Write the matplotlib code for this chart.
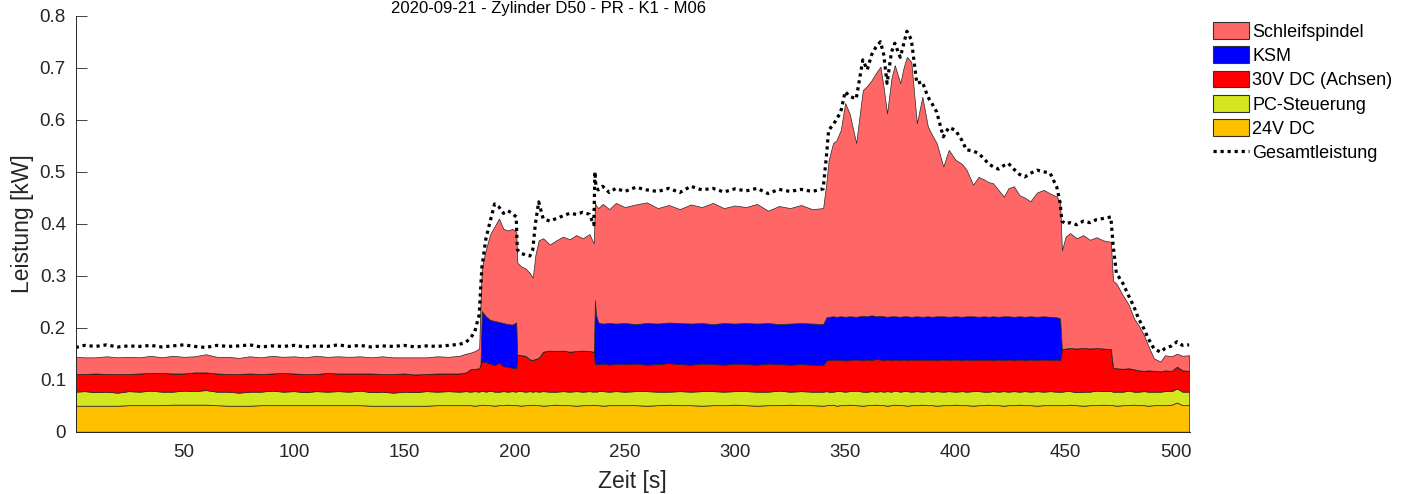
import matplotlib
matplotlib.use('Agg')
import matplotlib.pyplot as plt
from matplotlib.patches import Patch
from matplotlib.lines import Line2D

plt.rcParams['font.family'] = ['Liberation Sans', 'DejaVu Sans']

title_text = "2020-09-21 - Zylinder D50 - PR - K1 - M06"
series_names = ["Schleifspindel", "KSM", "30V DC (Achsen)", "PC-Steuerung", "24V DC", "Gesamtleistung"]
xtick_vals = [50, 100, 150, 200, 250, 300, 350, 400, 450, 500]
xtick_labels = ["50", "100", "150", "200", "250", "300", "350", "400", "450", "500"]
ytick_vals = [0, 0.1, 0.2, 0.3, 0.4, 0.5, 0.6, 0.7, 0.8]
ytick_labels = ["0", "0.1", "0.2", "0.3", "0.4", "0.5", "0.6", "0.7", "0.8"]

# time [s]
time = [
    1, 5, 10, 15, 20, 25, 30, 35, 40, 45, 50, 55, 60, 65, 70, 75, 80, 85,
    90, 95, 100, 105, 110, 115, 120, 125, 130, 135, 140, 145, 150, 155, 160, 165, 170, 175,
    178, 180, 182, 184, 184.6, 185.2, 187, 189, 191, 193, 195, 197, 199, 200.8, 201.3, 203,
    205, 207, 208.3, 209.5, 211, 213, 216, 219, 222, 225, 228, 231, 234, 236, 236.5, 237,
    238, 240, 243, 246,
    250, 255, 260, 265, 270, 275, 280, 285, 290, 295, 300, 305, 310, 315, 320, 325, 330, 335, 340,
    341.5, 342.5, 344.5, 346, 348, 350, 352, 355, 358, 360, 362, 364, 366, 367.5, 369, 371,
    372.5, 375, 376.5, 378, 380, 382.5, 385, 387.5, 389.5, 391.5, 394.5, 397, 400, 403, 405, 408,
    410.5, 413, 415, 417, 419.5, 422, 424, 426.5, 429, 431.5, 434, 437, 440, 443, 446, 447.5,
    448.3, 450, 452, 455, 458, 461, 464, 467, 470.5, 471.5, 473, 476, 478.5, 481, 483, 485.5,
    487.5, 490, 493, 495, 498, 500.5, 503, 506,
]

# 24V DC [kW]
p24 = [
    0.050, 0.050, 0.050, 0.050, 0.050, 0.051, 0.051, 0.051, 0.051, 0.052, 0.052, 0.052, 0.052, 0.051, 0.050, 0.050, 0.050, 0.051,
    0.051, 0.051, 0.051, 0.051, 0.051, 0.051, 0.051, 0.051, 0.051, 0.050, 0.050, 0.050, 0.050, 0.050, 0.050, 0.051, 0.051, 0.051,
    0.051, 0.051, 0.050, 0.051, 0.051, 0.052, 0.051, 0.051, 0.050, 0.051, 0.051, 0.052, 0.051, 0.051, 0.051, 0.050,
    0.051, 0.051, 0.052, 0.051, 0.051, 0.050, 0.051, 0.052, 0.051, 0.051, 0.050, 0.051, 0.051, 0.052, 0.051, 0.051,
    0.051, 0.050, 0.051, 0.051,
    0.051, 0.051, 0.050, 0.051, 0.052, 0.051, 0.051, 0.050, 0.051, 0.051, 0.052, 0.051, 0.050, 0.051, 0.051, 0.052, 0.051, 0.051, 0.050,
    0.051, 0.051, 0.052, 0.050, 0.051, 0.051, 0.052, 0.051, 0.050, 0.051, 0.051, 0.052, 0.051, 0.051, 0.050, 0.051,
    0.052, 0.051, 0.051, 0.050, 0.051, 0.051, 0.052, 0.051, 0.051, 0.050, 0.051, 0.051, 0.052, 0.051, 0.051, 0.050,
    0.051, 0.051, 0.052, 0.051, 0.051, 0.050, 0.051, 0.051, 0.052, 0.051, 0.051, 0.050, 0.051, 0.051, 0.051, 0.051,
    0.051, 0.051, 0.052, 0.051, 0.050, 0.051, 0.051, 0.052, 0.051, 0.051, 0.050, 0.051, 0.051, 0.052, 0.051, 0.051,
    0.050, 0.051, 0.051, 0.051, 0.052, 0.056, 0.051, 0.051,
]

# PC-Steuerung [kW]
pc = [
    0.027, 0.028, 0.026, 0.027, 0.025, 0.027, 0.026, 0.028, 0.026, 0.025, 0.027, 0.026, 0.028, 0.026, 0.027, 0.025, 0.027, 0.026,
    0.028, 0.026, 0.027, 0.025, 0.027, 0.026, 0.027, 0.026, 0.028, 0.026, 0.027, 0.025, 0.027, 0.026, 0.028, 0.026, 0.027, 0.026,
    0.027, 0.026, 0.028, 0.026, 0.027, 0.027, 0.026, 0.028, 0.027, 0.026, 0.027, 0.025, 0.027, 0.026, 0.027, 0.028,
    0.026, 0.027, 0.025, 0.027, 0.026, 0.028, 0.026, 0.025, 0.027, 0.026, 0.028, 0.026, 0.027, 0.025, 0.027, 0.026,
    0.027, 0.028, 0.026, 0.027,
    0.026, 0.027, 0.028, 0.026, 0.025, 0.027, 0.026, 0.028, 0.027, 0.026, 0.026, 0.027, 0.027, 0.026, 0.028, 0.025, 0.027, 0.026, 0.027,
    0.027, 0.026, 0.025, 0.028, 0.027, 0.026, 0.026, 0.028, 0.027, 0.026, 0.027, 0.025, 0.027, 0.026, 0.028, 0.026,
    0.027, 0.026, 0.027, 0.028, 0.026, 0.027, 0.025, 0.027, 0.026, 0.028, 0.026, 0.027, 0.025, 0.027, 0.026, 0.028,
    0.027, 0.026, 0.025, 0.027, 0.026, 0.028, 0.026, 0.027, 0.025, 0.027, 0.026, 0.028, 0.026, 0.027, 0.026, 0.026,
    0.026, 0.027, 0.026, 0.025, 0.027, 0.026, 0.028, 0.026, 0.027, 0.026, 0.027, 0.026, 0.028, 0.025, 0.026, 0.027,
    0.027, 0.026, 0.026, 0.027, 0.026, 0.027, 0.026, 0.026,
]

# 30V DC (Achsen) [kW]
p30 = [
    0.034, 0.033, 0.036, 0.034, 0.036, 0.033, 0.035, 0.034, 0.036, 0.035, 0.033, 0.036, 0.034, 0.035, 0.034, 0.036, 0.035, 0.034,
    0.033, 0.036, 0.034, 0.035, 0.033, 0.036, 0.034, 0.035, 0.033, 0.036, 0.034, 0.036, 0.035, 0.034, 0.033, 0.035, 0.034, 0.035,
    0.036, 0.043, 0.043, 0.045, 0.052, 0.056, 0.057, 0.052, 0.051, 0.056, 0.048, 0.048, 0.045, 0.045, 0.070, 0.069,
    0.069, 0.061, 0.061, 0.062, 0.065, 0.076, 0.079, 0.078, 0.078, 0.077, 0.077, 0.079, 0.077, 0.077, 0.053, 0.053,
    0.052, 0.053, 0.052, 0.053,
    0.053, 0.053, 0.051, 0.053, 0.055, 0.052, 0.052, 0.053, 0.052, 0.052, 0.053, 0.052, 0.052, 0.054, 0.051, 0.052, 0.052, 0.052, 0.051,
    0.059, 0.061, 0.061, 0.061, 0.060, 0.060, 0.060, 0.060, 0.061, 0.062, 0.060, 0.063, 0.061, 0.061, 0.061, 0.061,
    0.060, 0.061, 0.061, 0.060, 0.062, 0.060, 0.062, 0.060, 0.062, 0.060, 0.062, 0.060, 0.062, 0.060, 0.062, 0.060,
    0.061, 0.061, 0.062, 0.060, 0.062, 0.060, 0.062, 0.060, 0.062, 0.060, 0.062, 0.060, 0.062, 0.060, 0.062, 0.060,
    0.081, 0.082, 0.083, 0.084, 0.084, 0.083, 0.082, 0.082, 0.081, 0.046, 0.045, 0.044, 0.043, 0.043, 0.041, 0.039,
    0.041, 0.040, 0.039, 0.040, 0.039, 0.042, 0.041, 0.040,
]

# KSM [kW]
ksm = [
    0, 0, 0, 0, 0, 0, 0, 0, 0, 0, 0, 0, 0, 0, 0, 0, 0, 0,
    0, 0, 0, 0, 0, 0, 0, 0, 0, 0, 0, 0, 0, 0, 0, 0, 0, 0,
    0, 0, 0, 0, 0, 0.097, 0.088, 0.084, 0.085, 0.078, 0.083, 0.082, 0.083, 0.088, 0, 0,
    0, 0, 0, 0, 0, 0, 0, 0, 0, 0, 0, 0, 0, 0, 0.122, 0.095,
    0.080, 0.077, 0.080, 0.077,
    0.079, 0.076, 0.080, 0.078, 0.078, 0.079, 0.079, 0.078, 0.077, 0.080, 0.077, 0.079, 0.079, 0.078, 0.077, 0.079, 0.079, 0.079, 0.079,
    0.083, 0.083, 0.084, 0.082, 0.084, 0.084, 0.084, 0.082, 0.085, 0.083, 0.086, 0.082, 0.084, 0.084, 0.082, 0.084,
    0.083, 0.083, 0.083, 0.084, 0.082, 0.084, 0.082, 0.084, 0.082, 0.084, 0.083, 0.083, 0.083, 0.083, 0.083, 0.084,
    0.082, 0.084, 0.082, 0.084, 0.082, 0.084, 0.083, 0.083, 0.083, 0.083, 0.083, 0.083, 0.083, 0.083, 0.081, 0.081,
    0, 0, 0, 0, 0, 0, 0, 0, 0, 0, 0, 0, 0, 0, 0, 0,
    0, 0, 0, 0, 0, 0, 0, 0,
]

# Schleifspindel [kW]
schleif = [
    0.033, 0.032, 0.031, 0.034, 0.032, 0.033, 0.031, 0.033, 0.030, 0.034, 0.032, 0.031, 0.035, 0.032, 0.033, 0.031, 0.033, 0.032,
    0.034, 0.031, 0.033, 0.032, 0.035, 0.031, 0.033, 0.032, 0.033, 0.031, 0.034, 0.032, 0.031, 0.033, 0.032, 0.033, 0.032, 0.034,
    0.036, 0.032, 0.034, 0.038, 0.120, 0.083, 0.128, 0.165, 0.182, 0.199, 0.181, 0.180, 0.184, 0.175, 0.177, 0.171,
    0.168, 0.166, 0.158, 0.200, 0.226, 0.218, 0.204, 0.213, 0.219, 0.216, 0.223, 0.216, 0.225, 0.208, 0.187, 0.210,
    0.220, 0.230, 0.219, 0.232,
    0.223, 0.230, 0.232, 0.222, 0.226, 0.219, 0.229, 0.223, 0.233, 0.221, 0.227, 0.223, 0.230, 0.216, 0.227, 0.222, 0.227, 0.220, 0.223,
    0.260, 0.301, 0.333, 0.339, 0.358, 0.411, 0.390, 0.334, 0.434, 0.443, 0.452, 0.468, 0.479, 0.438, 0.391, 0.458,
    0.483, 0.449, 0.478, 0.499, 0.490, 0.371, 0.423, 0.365, 0.349, 0.333, 0.288, 0.321, 0.301, 0.294, 0.282, 0.253,
    0.269, 0.263, 0.259, 0.256, 0.244, 0.230, 0.246, 0.251, 0.233, 0.229, 0.221, 0.239, 0.243, 0.237, 0.232, 0.222,
    0.191, 0.215, 0.221, 0.212, 0.217, 0.209, 0.213, 0.208, 0.206, 0.167, 0.163, 0.141, 0.123, 0.098, 0.087, 0.069,
    0.047, 0.024, 0.019, 0.029, 0.028, 0.025, 0.028, 0.030,
]

# Gesamtleistung [kW]
total = [
    0.162, 0.166, 0.164, 0.167, 0.163, 0.165, 0.164, 0.166, 0.163, 0.165, 0.167, 0.164, 0.162, 0.166, 0.164, 0.165, 0.167, 0.163,
    0.165, 0.164, 0.166, 0.163, 0.165, 0.164, 0.167, 0.164, 0.166, 0.163, 0.165, 0.164, 0.166, 0.163, 0.165, 0.164, 0.166, 0.168,
    0.172, 0.180, 0.192, 0.225, 0.270, 0.315, 0.370, 0.405, 0.438, 0.432, 0.420, 0.425, 0.420, 0.413, 0.350, 0.343,
    0.340, 0.338, 0.350, 0.400, 0.442, 0.410, 0.405, 0.410, 0.415, 0.420, 0.418, 0.422, 0.418, 0.398, 0.500, 0.470,
    0.465, 0.472, 0.460, 0.468,
    0.462, 0.470, 0.465, 0.462, 0.468, 0.460, 0.472, 0.465, 0.468, 0.461, 0.467, 0.463, 0.468, 0.458, 0.466, 0.462, 0.466, 0.462, 0.467,
    0.530, 0.580, 0.590, 0.600, 0.615, 0.654, 0.645, 0.640, 0.715, 0.696, 0.725, 0.740, 0.750, 0.725, 0.670, 0.730,
    0.747, 0.720, 0.745, 0.770, 0.754, 0.670, 0.673, 0.644, 0.630, 0.615, 0.567, 0.585, 0.580, 0.560, 0.542, 0.540,
    0.535, 0.525, 0.515, 0.510, 0.505, 0.512, 0.516, 0.505, 0.495, 0.490, 0.497, 0.503, 0.500, 0.497, 0.470, 0.440,
    0.405, 0.400, 0.402, 0.398, 0.405, 0.402, 0.408, 0.410, 0.413, 0.360, 0.305, 0.285, 0.262, 0.240, 0.218, 0.198,
    0.179, 0.160, 0.153, 0.160, 0.165, 0.173, 0.166, 0.167,
]

for name, arr in [("p24", p24), ("pc", pc), ("p30", p30), ("ksm", ksm), ("schleif", schleif), ("total", total)]:
    assert len(arr) == len(time), (name, len(arr), len(time))

col_24 = '#FFC000'
col_pc = '#D4E61E'
col_30 = '#FF0000'
col_ksm = '#0000FF'
col_sch = '#FF6666'
edge_col = '#262626'
text_col = '#262626'

W, H = 1414, 494
fig = plt.figure(figsize=(W / 100, H / 100), dpi=100)
ax_left, ax_right, ax_top, ax_bot = 75.7, 1190.0, 15.7, 431.7
ax = fig.add_axes([ax_left / W, 1 - ax_bot / H, (ax_right - ax_left) / W, (ax_bot - ax_top) / H])

ax.stackplot(time, p24, pc, p30, ksm, schleif,
             colors=[col_24, col_pc, col_30, col_ksm, col_sch],
             edgecolor=edge_col, linewidth=0.5)
ax.plot(time, total, color='black', linestyle=(0, (1, 1.2)), linewidth=2.3)

ax.set_xlim(1, 506.4)
ax.set_ylim(0, 0.8)
ax.set_xticks(xtick_vals)
ax.set_xticklabels(xtick_labels)
ax.set_yticks(ytick_vals)
ax.set_yticklabels(ytick_labels)
ax.set_axisbelow(True)
ax.tick_params(direction='in', length=8, width=0.6, colors=text_col, labelsize=13.5, pad=7)
ax.tick_params(axis='x', pad=9)
for s in ['top', 'right']:
    ax.spines[s].set_visible(False)
for s in ['left', 'bottom']:
    ax.spines[s].set_color(edge_col)
    ax.spines[s].set_linewidth(0.7)

fig.text(548.3 / W, 1 - 13.5 / H, title_text, ha='center', va='baseline', fontsize=12, color='black')
fig.text(23 / W, 1 - 224 / H, "Leistung [kW]", rotation=90, ha='center', va='center', fontsize=16.5, color=text_col)
fig.text(632 / W, 1 - 487.5 / H, "Zeit [s]", ha='center', va='baseline', fontsize=16.5, color=text_col)

handles = [
    Patch(facecolor=col_sch, edgecolor='#333333', linewidth=0.8),
    Patch(facecolor=col_ksm, edgecolor='#333333', linewidth=0.8),
    Patch(facecolor=col_30, edgecolor='#333333', linewidth=0.8),
    Patch(facecolor=col_pc, edgecolor='#333333', linewidth=0.8),
    Patch(facecolor=col_24, edgecolor='#333333', linewidth=0.8),
    Line2D([0], [0], color='black', linestyle=(0, (1, 1.2)), linewidth=2.3),
]
fs = 13
fs_px = fs * 100 / 72
leg = fig.legend(handles, series_names, loc='upper left',
                 bbox_to_anchor=(1213 / W, 1 - 22 / H), frameon=False, fontsize=fs,
                 handlelength=36 / fs_px, handleheight=19 / fs_px, handletextpad=3 / fs_px,
                 labelspacing=(24.8 - 19) / fs_px, borderpad=0, borderaxespad=0)
for t in leg.get_texts():
    t.set_color('black')

fig.savefig('out.png', dpi=100)
